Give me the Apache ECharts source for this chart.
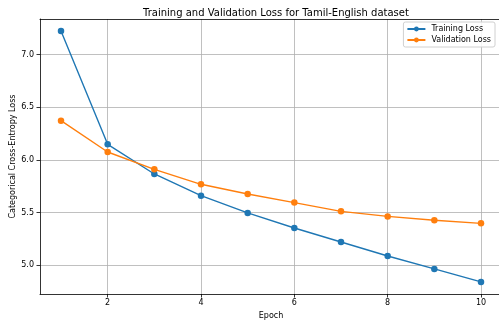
<!DOCTYPE html>
<html>
<head>
<meta charset="utf-8">
<script src="https://cdn.jsdelivr.net/npm/echarts@6/dist/echarts.min.js"></script>
<style>
  html, body { margin: 0; padding: 0; background: #fff; }
  #chart { width: 499px; height: 323px; }
</style>
</head>
<body>
<div id="chart"></div>
<script>
var epochs = [1, 2, 3, 4, 5, 6, 7, 8, 9, 10];
var trainLoss = [7.225, 6.149, 5.867, 5.661, 5.497, 5.354, 5.221, 5.088, 4.965, 4.842];
var valLoss = [6.373, 6.076, 5.911, 5.769, 5.677, 5.595, 5.512, 5.464, 5.427, 5.398];
var xTicks = [2, 4, 6, 8, 10];
var yTicks = [5.0, 5.5, 6.0, 6.5, 7.0];

var font = "DejaVu Sans";
var blue = "#1f77b4", orange = "#ff7f0e";

function pairs(ys) {
    return epochs.map(function(x, i) { return [x, ys[i]]; });
}

var spine = { show: true, lineStyle: { color: "#000", width: 0.8 } };

var chart = echarts.init(document.getElementById("chart"), null, { renderer: "canvas" });
chart.setOption({
    animation: false,
    textStyle: { fontFamily: font },
    title: {
        text: "Training and Validation Loss for Tamil-English dataset",
        left: 271,
        textAlign: "center",
        top: 3,
        textStyle: { fontFamily: font, fontSize: 10, fontWeight: "normal", color: "#000" }
    },
    legend: {
        orient: "vertical",
        right: 4,
        top: 22,
        itemWidth: 18,
        itemHeight: 6,
        itemGap: 3,
        padding: [3, 4, 3, 3],
        borderColor: "#d0d0d0",
        borderWidth: 1,
        borderRadius: 2,
        backgroundColor: "rgba(255,255,255,0.85)",
        textStyle: { fontFamily: font, fontSize: 8, color: "#000", padding: [0, 0, 0, 1] },
        data: ["Training Loss", "Validation Loss"]
    },
    grid: { left: 40, right: -3, top: 19, bottom: 29, containLabel: false, outerBoundsMode: "none" },
    xAxis: [{
        type: "value",
        min: 0.55,
        max: 10.45,
        name: "Epoch",
        nameLocation: "middle",
        nameGap: 18,
        nameMoveOverlap: false,
        nameTextStyle: { fontFamily: font, fontSize: 8, color: "#000" },
        axisLine: spine,
        axisTick: { show: true, length: 3.5, customValues: xTicks, lineStyle: { color: "#000", width: 0.8 } },
        axisLabel: { customValues: xTicks, margin: 5, fontSize: 8, color: "#000", fontFamily: font },
        splitLine: { show: true, customValues: xTicks, lineStyle: { color: "#b0b0b0", width: 0.8 } }
    }, {
        type: "value",
        position: "top",
        min: 0.55,
        max: 10.45,
        axisLine: spine,
        axisTick: { show: false },
        axisLabel: { show: false },
        splitLine: { show: false }
    }],
    yAxis: {
        type: "value",
        min: 4.727,
        max: 7.339,
        name: "Categorical Cross-Entropy Loss",
        nameLocation: "middle",
        nameGap: 23,
        nameMoveOverlap: false,
        nameTextStyle: { fontFamily: font, fontSize: 8, color: "#000" },
        axisLine: spine,
        axisTick: { show: true, length: 3.5, customValues: yTicks, lineStyle: { color: "#000", width: 0.8 } },
        axisLabel: {
            customValues: yTicks, margin: 6, fontSize: 8, color: "#000", fontFamily: font,
            formatter: function(v) { return v.toFixed(1); }
        },
        splitLine: { show: true, customValues: yTicks, lineStyle: { color: "#b0b0b0", width: 0.8 } }
    },
    series: [{
        name: "Training Loss",
        type: "line",
        data: pairs(trainLoss),
        symbol: "circle",
        symbolSize: 6.5,
        color: blue,
        lineStyle: { width: 1.4, color: blue },
        itemStyle: { color: blue }
    }, {
        name: "Validation Loss",
        type: "line",
        data: pairs(valLoss),
        symbol: "circle",
        symbolSize: 6.5,
        color: orange,
        lineStyle: { width: 1.4, color: orange },
        itemStyle: { color: orange }
    }]
});
</script>
</body>
</html>
